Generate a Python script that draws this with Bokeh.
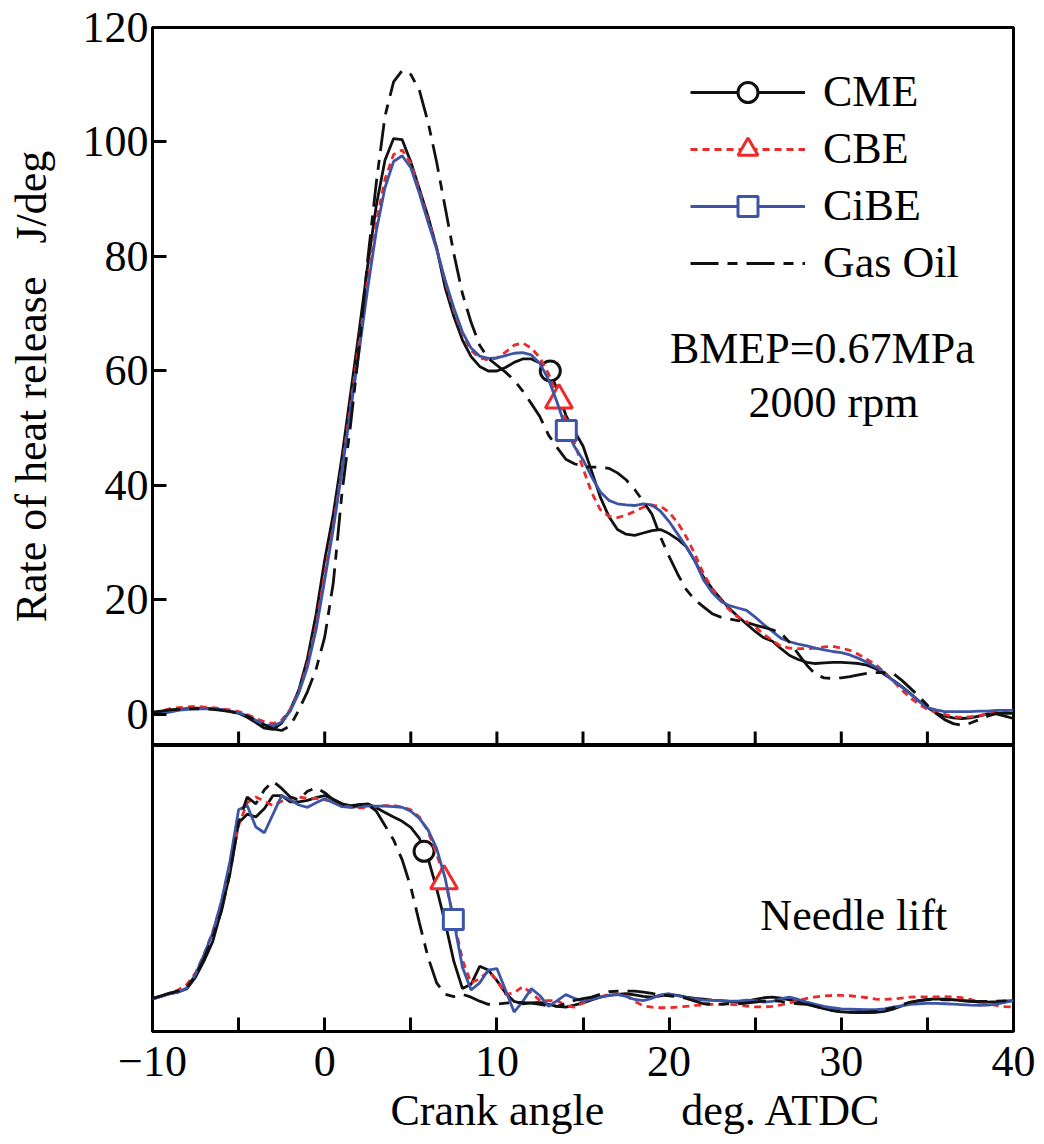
from bokeh.plotting import figure
from bokeh.models import FixedTicker, Label, Legend, LegendItem, Range1d, Title
from bokeh.layouts import column
from bokeh.embed import file_html
from bokeh.resources import INLINE

FONT = "Liberation Serif"
BLACK = "#111111"
RED = "#ED2A2A"
BLUE = "#3C55A6"

# crank angle, deg ATDC
angle = [-10.0, -9.5, -9.0, -8.5, -8.0, -7.5, -7.0, -6.5, -6.0, -5.5,
         -5.0, -4.5, -4.0, -3.5, -3.0, -2.5, -2.0, -1.5, -1.0, -0.5,
         0.0, 0.5, 1.0, 1.5, 2.0, 2.5, 3.0, 3.5, 4.0, 4.5,
         5.0, 5.5, 6.0, 6.5, 7.0, 7.5, 8.0, 8.5, 9.0, 9.5,
         10.0, 10.5, 11.0, 11.5, 12.0, 12.5, 13.0, 13.5, 14.0, 14.5,
         15.0, 15.5, 16.0, 16.5, 17.0, 17.5, 18.0, 18.5, 19.0, 19.5,
         20.0, 20.5, 21.0, 21.5, 22.0, 22.5, 23.0, 23.5, 24.0, 24.5,
         25.0, 25.5, 26.0, 26.5, 27.0, 27.5, 28.0, 28.5, 29.0, 29.5,
         30.0, 30.5, 31.0, 31.5, 32.0, 32.5, 33.0, 33.5, 34.0, 34.5,
         35.0, 35.5, 36.0, 36.5, 37.0, 37.5, 38.0, 38.5, 39.0, 39.5,
         40.0]

# rate of heat release, J/deg
hrr_cme = [0.3, 0.5, 0.7, 0.9, 1.0, 1.1, 1.1, 1.0, 0.8, 0.6,
           0.2, -0.5, -1.4, -2.4, -2.6, -1.5, 0.8, 4.3, 9.8, 17.5,
           27.0, 35.0, 45.0, 56.0, 67.0, 78.5, 89.0, 96.8, 100.6, 100.4,
           96.5, 91.8, 87.0, 81.5, 74.5, 69.5, 65.4, 62.5, 60.8, 60.0,
           60.0, 60.6, 61.5, 62.1, 62.1, 61.4, 60.3, 56.8, 52.3, 49.5,
           46.9, 42.5, 38.0, 34.6, 32.3, 31.5, 31.3, 31.7, 32.1, 32.3,
           31.6, 30.6, 29.3, 26.8, 24.0, 22.0, 20.2, 18.5, 17.1, 15.8,
           14.5, 13.4, 12.8, 11.5, 10.3, 9.6, 9.1, 8.9, 9.0, 9.1,
           9.1, 9.0, 8.9, 8.6, 8.0, 7.0, 6.0, 4.9, 3.7, 2.4,
           1.2, 0.3, -0.3, -0.6, -0.7, -0.6, -0.3, 0.1, 0.1, -0.3,
           -0.7]
hrr_cbe = [0.2, 0.6, 1.0, 1.2, 1.3, 1.4, 1.3, 1.2, 1.0, 0.8,
           0.5, 0.0, -0.7, -1.3, -1.6, -1.0, 0.9, 4.0, 8.8, 15.5,
           24.5, 33.0, 43.0, 54.0, 65.0, 76.0, 86.0, 93.5, 97.8, 98.6,
           96.3, 91.5, 86.5, 81.5, 75.5, 70.5, 66.5, 63.6, 62.3, 61.9,
           62.3, 63.3, 64.5, 64.9, 64.0, 62.3, 59.5, 55.8, 51.5, 47.5,
           43.0, 38.8, 35.8, 34.6, 34.4, 34.8, 35.5, 36.2, 36.5, 36.4,
           35.3, 33.5, 31.0, 28.0, 24.6, 22.0, 19.9, 18.3, 17.0, 16.2,
           15.3, 14.0, 12.9, 11.9, 11.6, 11.5, 11.5, 11.6, 11.8, 11.9,
           11.6, 11.2, 10.5, 9.6, 8.7, 7.4, 5.9, 4.3, 2.9, 1.8,
           0.9, 0.4, 0.0, -0.4, -0.5, -0.4, -0.2, 0.1, 0.4, 0.6,
           0.7]
hrr_cibe = [0.1, 0.2, 0.4, 0.7, 0.9, 1.0, 1.0, 1.0, 0.9, 0.6,
            0.3, -0.2, -1.0, -1.8, -2.0, -1.3, 0.6, 3.8, 8.3, 14.8,
            23.5, 32.5, 42.5, 53.0, 63.5, 74.5, 84.5, 92.0, 96.6, 97.6,
            95.5, 91.0, 86.0, 81.3, 75.8, 71.0, 66.8, 64.0, 62.6, 62.2,
            62.3, 62.7, 63.1, 63.2, 62.8, 61.3, 58.5, 54.5, 50.0, 46.8,
            44.5, 41.5, 38.9, 37.4, 36.8, 36.6, 36.5, 36.8, 36.6, 35.5,
            33.7, 31.5, 29.3, 26.8, 23.5, 21.3, 19.8, 19.0, 18.6, 18.2,
            17.0, 15.7, 14.5, 13.3, 12.7, 12.3, 12.0, 11.6, 11.3, 11.0,
            10.8, 10.4, 9.8, 9.1, 8.3, 7.3, 5.9, 4.8, 3.6, 2.3,
            1.2, 0.8, 0.5, 0.5, 0.5, 0.5, 0.6, 0.6, 0.7, 0.7,
            0.7]
hrr_gasoil = [0.4, 0.6, 0.8, 0.9, 1.0, 1.0, 1.0, 0.9, 0.7, 0.5,
              0.2, -0.3, -1.0, -1.8, -2.5, -2.8, -2.0, 0.8, 4.0, 7.9,
              13.5, 23.0, 38.6, 50.5, 64.0, 79.5, 93.0, 104.5, 110.5, 112.5,
              111.8, 109.0, 103.5, 96.5, 88.5, 80.5, 73.5, 68.5, 64.5, 62.2,
              61.0, 59.8, 58.4, 56.5, 54.3, 52.0, 48.8, 46.6, 44.6, 43.8,
              43.3, 43.2, 43.2, 43.0, 42.2, 41.0, 39.3, 37.2, 35.0, 31.0,
              27.6, 24.5, 21.8, 20.0, 18.8, 17.6, 17.0, 16.7, 16.4, 16.1,
              15.6, 15.2, 14.8, 14.2, 12.6, 10.6, 8.6, 7.0, 6.4, 6.3,
              6.4, 6.6, 6.9, 7.2, 7.3, 7.3, 7.2, 6.0, 4.6, 3.2,
              1.6, 0.2, -0.9, -1.6, -1.9, -1.5, -0.9, -0.3, 0.2, 0.2,
              0.2]

# needle lift, arbitrary units
lift_cme = [11.4, 12.3, 13.2, 13.8, 15.0, 19.0, 24.8, 31.5, 42.4, 55.3,
            73.0, 76.0, 75.0, 78.0, 82.5, 82.5, 80.3, 80.3, 80.8, 81.8,
            82.5, 81.2, 79.6, 79.0, 79.3, 79.6, 78.2, 76.6, 75.0, 73.5,
            71.4, 67.5, 60.5, 50.0, 38.0, 24.5, 15.0, 16.5, 22.8, 21.5,
            17.8, 13.5, 10.5, 9.7, 10.0, 10.2, 9.5, 8.8, 8.5, 9.2,
            10.0, 11.0, 12.0, 12.6, 13.0, 13.2, 12.8, 12.3, 12.0, 12.5,
            12.9, 12.6, 12.0, 11.6, 11.3, 11.0, 10.8, 10.5, 10.2, 10.6,
            11.2, 11.8, 12.0, 11.7, 11.1, 10.4, 9.7, 8.8, 8.0, 7.3,
            6.9, 6.7, 6.6, 6.6, 6.7, 7.0, 7.8, 8.9, 10.0, 10.8,
            11.2, 11.4, 11.3, 11.1, 10.8, 10.5, 10.3, 10.3, 10.4, 10.6,
            10.8]
lift_cbe = [11.4, 12.3, 13.4, 14.5, 16.5, 20.5, 27.0, 35.0, 45.0, 58.5,
            72.0, 80.0, 82.0, 80.5, 79.0, 80.5, 81.5, 82.0, 81.5, 81.5,
            81.0, 80.5, 79.5, 78.4, 78.2, 78.4, 78.6, 79.0, 79.0, 78.5,
            77.5, 75.0, 70.0, 62.0, 53.0, 39.0, 25.0, 17.0, 18.5, 21.0,
            18.0, 13.0, 13.5, 15.7, 13.5, 10.8, 10.8, 10.8, 9.0, 8.5,
            10.0, 11.4, 12.2, 12.8, 13.2, 12.5, 10.5, 9.0, 8.5, 8.3,
            8.3, 8.5, 8.8, 9.1, 9.3, 9.5, 9.5, 9.5, 9.3, 8.9,
            8.6, 8.6, 8.8, 9.3, 10.0, 10.8, 11.6, 12.1, 12.4, 12.6,
            12.6, 12.5, 12.2, 11.8, 11.3, 11.2, 11.4, 11.7, 12.0, 12.1,
            12.1, 12.1, 12.2, 12.1, 11.8, 11.2, 10.4, 9.7, 9.1, 8.7,
            8.6]
lift_cibe = [11.4, 12.3, 13.2, 13.8, 15.2, 20.0, 27.0, 34.5, 45.5, 59.5,
             77.5, 79.0, 71.5, 69.5, 76.0, 82.5, 81.0, 79.2, 78.4, 80.0,
             81.4, 80.0, 78.6, 78.4, 78.6, 78.8, 78.8, 78.8, 78.6, 78.4,
             77.0, 74.5, 70.5, 64.0, 53.5, 38.5, 22.5, 14.5, 17.0, 21.5,
             22.0, 14.5, 6.8, 10.5, 15.0, 12.5, 8.8, 10.8, 12.9, 11.6,
             10.6, 11.3, 12.0, 12.6, 12.9, 12.3, 11.2, 10.8, 11.6, 12.8,
             13.2, 12.5, 11.8, 11.3, 11.0, 10.9, 10.8, 10.6, 10.6, 11.0,
             10.8, 10.3, 10.5, 11.5, 12.0, 11.2, 10.3, 9.5, 8.8, 8.3,
             7.9, 7.8, 7.7, 7.6, 7.6, 7.9, 8.5, 9.0, 9.5, 9.7,
             9.8, 9.8, 9.7, 9.6, 9.4, 9.2, 9.1, 9.2, 9.6, 10.2,
             10.8]
lift_gasoil = [11.6, 12.5, 13.4, 14.2, 15.5, 19.5, 25.5, 33.0, 42.0, 55.5,
               73.0, 82.0, 79.6, 84.5, 87.5, 85.0, 82.0, 81.0, 84.0, 85.2,
               83.5, 81.0, 79.6, 78.4, 79.3, 79.4, 77.0, 72.0, 67.0, 60.0,
               50.5, 38.0, 26.0, 17.0, 13.0, 12.2, 13.0, 12.0, 10.6, 9.5,
               9.6, 9.9, 10.2, 10.1, 9.9, 9.5, 9.0, 8.8, 9.7, 10.9,
               11.5, 12.0, 13.0, 13.9, 14.1, 14.1, 14.1, 13.8, 13.3, 12.8,
               12.5, 12.2, 11.6, 10.6, 9.7, 9.6, 9.6, 9.7, 9.7, 9.9,
               10.3, 10.6, 10.8, 10.5, 10.0, 9.7, 9.5, 8.8, 8.0, 7.3,
               7.0, 6.8, 6.8, 6.8, 7.0, 7.5, 8.3, 9.3, 10.3, 10.8,
               11.1, 11.2, 11.1, 11.0, 10.8, 10.6, 10.5, 10.5, 10.6, 10.7,
               10.8]

# marker positions (angle, value)
mark_hrr_x = [13.1, 13.6, 14.03]
mark_hrr_y = [60.0, 54.9, 49.6]
mark_lift_x = [5.77, 6.93, 7.47]
mark_lift_y = [63.0, 52.6, 39.2]

series_names = ["CME", "CBE", "CiBE", "Gas Oil"]
hrr_ticks = [0, 20, 40, 60, 80, 100, 120]
angle_major_ticks = [-10, 0, 10, 20, 30, 40]
angle_minor_ticks = [-5, 5, 15, 25, 35]
angle_all_ticks = [-5, 0, 5, 10, 15, 20, 25, 30, 35]

styles = [
    dict(color=BLACK, dash="solid", marker="circle", size=20),
    dict(color=RED, dash="7 5", marker="triangle", size=27),
    dict(color=BLUE, dash="solid", marker="square", size=20),
    dict(color=BLACK, dash="28 9 10 9", marker=None, size=0),
]
hrr_all = [hrr_cme, hrr_cbe, hrr_cibe, hrr_gasoil]
lift_all = [lift_cme, lift_cbe, lift_cibe, lift_gasoil]

W = 1038
top = figure(width=W, height=745, x_range=Range1d(-10, 40), y_range=Range1d(-5.42, 120),
             output_backend="svg", toolbar_location=None, x_axis_location=None,
             min_border_left=152, min_border_right=25, min_border_top=27, min_border_bottom=0)
bot = figure(width=W, height=399, x_range=top.x_range, y_range=Range1d(0, 100),
             output_backend="svg", toolbar_location=None, y_axis_location=None,
             min_border_left=152, min_border_right=25, min_border_top=0, min_border_bottom=113)

for p in (top, bot):
    p.xgrid.visible = False
    p.ygrid.visible = False
    p.outline_line_color = "black"
    p.outline_line_width = 3
    p.outline_line_alpha = 1
    p.background_fill_color = "white"
    p.border_fill_color = "white"

# inward ticks along the lower edge of the heat-release panel
top.ray(x=angle_all_ticks, y=[top.y_range.start] * len(angle_all_ticks),
        length=14, length_units="screen", angle=90, angle_units="deg",
        line_color="black", line_width=3)

# top y axis
ya = top.yaxis[0]
ya.ticker = FixedTicker(ticks=hrr_ticks)
ya.axis_line_width = 3
ya.major_tick_line_width = 3
ya.major_tick_in = 14
ya.major_tick_out = 0
ya.minor_tick_line_color = None
ya.major_label_text_font = FONT
ya.major_label_text_font_size = "44px"
ya.major_label_text_color = "black"
ya.major_label_standoff = 4
ya.axis_label = "Rate of heat release\u00a0\u00a0\u00a0J/deg"
ya.axis_label_text_font = FONT
ya.axis_label_text_font_size = "44px"
ya.axis_label_text_font_style = "normal"
ya.axis_label_text_color = "black"
ya.axis_label_standoff = 24

# bottom x axis
xa = bot.xaxis[0]
xa.ticker = FixedTicker(ticks=angle_major_ticks, minor_ticks=angle_minor_ticks)
xa.axis_line_width = 3
xa.major_tick_line_width = 3
xa.minor_tick_line_width = 3
xa.major_tick_in = 14
xa.major_tick_out = 0
xa.minor_tick_in = 14
xa.minor_tick_out = 0
xa.major_label_overrides = {-10: "\u221210"}
xa.major_label_text_font = FONT
xa.major_label_text_font_size = "44px"
xa.major_label_text_color = "black"
xa.major_label_standoff = 15

bot.add_layout(Title(text="Crank angle" + "\u00a0" * 7 + "deg. ATDC", align="left", offset=238,
                     standoff=11, text_font=FONT, text_font_size="44px",
                     text_font_style="normal", text_color="black"), "below")

items = []
for name, st, h, l, mx, my, lx, ly in zip(series_names, styles, hrr_all, lift_all,
                                          mark_hrr_x + [None], mark_hrr_y + [None],
                                          mark_lift_x + [None], mark_lift_y + [None]):
    r1 = top.line(angle, h, line_color=st["color"], line_width=2.8, line_dash=st["dash"])
    bot.line(angle, l, line_color=st["color"], line_width=2.8, line_dash=st["dash"])
    rs = [r1]
    if st["marker"]:
        m1 = top.scatter([mx], [my], marker=st["marker"], size=st["size"],
                         line_color=st["color"], line_width=3, fill_color="white")
        bot.scatter([lx], [ly], marker=st["marker"], size=st["size"],
                    line_color=st["color"], line_width=3, fill_color="white")
        rs.append(m1)
    items.append(LegendItem(label=name, renderers=rs))

legend = Legend(items=items, location=(538, 457), glyph_width=115, glyph_height=50,
                label_height=50, spacing=6, padding=0, margin=0, label_standoff=18,
                label_text_font=FONT, label_text_font_size="44px", label_text_color="black",
                background_fill_alpha=0, border_line_color=None)
top.add_layout(legend)

top.add_layout(Label(x=28.9, y=64.0, text="BMEP=0.67MPa", text_align="center",
                     text_baseline="middle", text_font=FONT, text_font_size="44px",
                     text_color="black"))
top.add_layout(Label(x=29.55, y=54.5, text="2000 rpm", text_align="center",
                     text_baseline="middle", text_font=FONT, text_font_size="44px",
                     text_color="black"))
bot.add_layout(Label(x=25.3, y=40.6, text="Needle lift", text_align="left",
                     text_baseline="middle", text_font=FONT, text_font_size="44px",
                     text_color="black"))

layout = column(top, bot, spacing=0)
open("out.html", "w").write(file_html(layout, INLINE))
